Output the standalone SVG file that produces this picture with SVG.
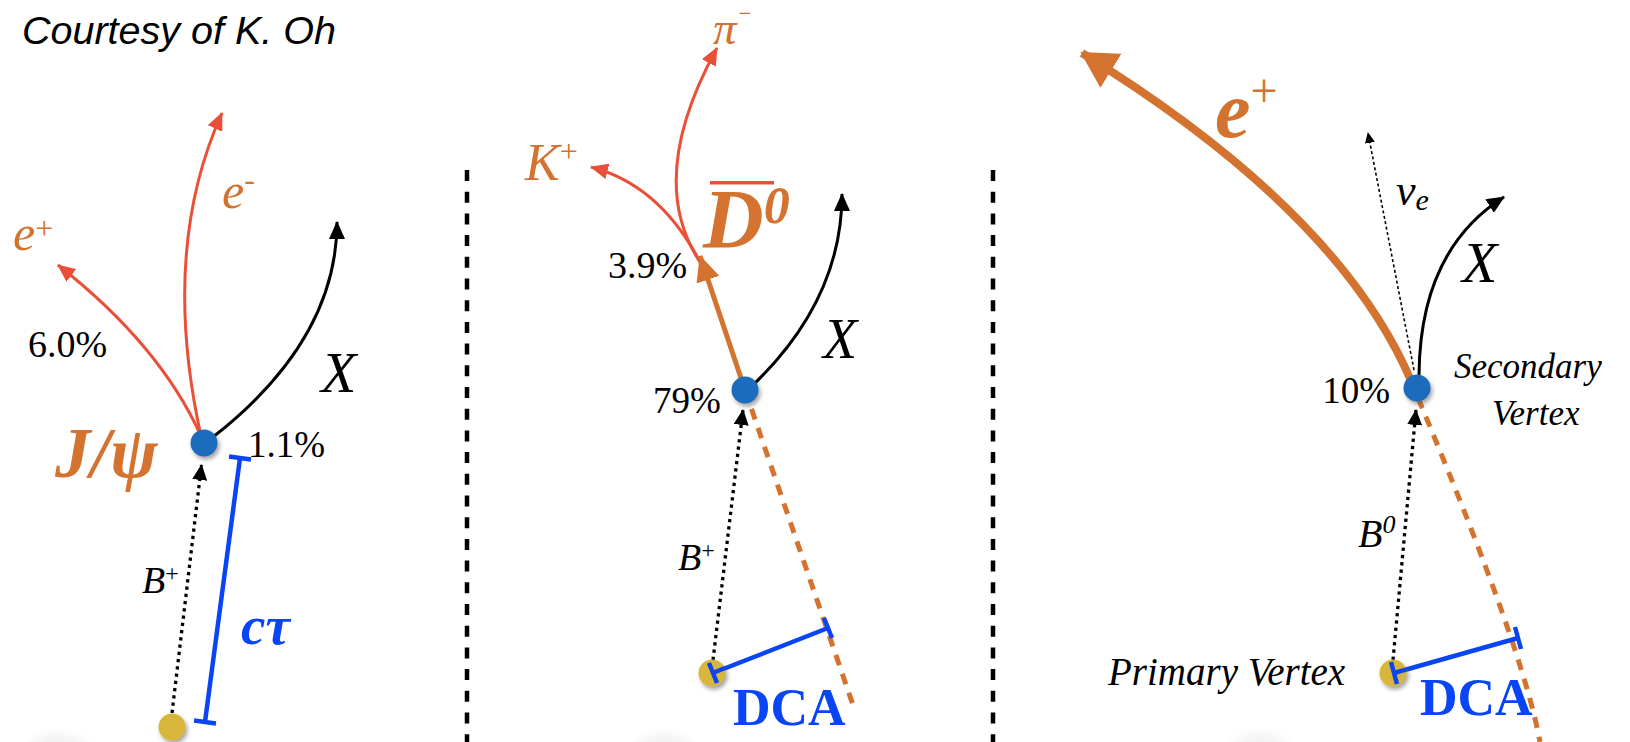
<svg xmlns="http://www.w3.org/2000/svg" width="1630" height="742" viewBox="0 0 1630 742">
<style>
.serif{font-family:"Liberation Serif","Times New Roman",serif}
.it{font-style:italic}
.bd{font-weight:bold}
.blk{fill:#000}
.org{fill:#d4732f}
.blu{fill:#0a45f5}
.red-line{fill:none;stroke:#ea5038;stroke-width:3}
.blk-line{fill:none;stroke:#000;stroke-width:3}
.dot-line{fill:none;stroke:#000;stroke-width:3.3;stroke-dasharray:3.3 4}
.sep{fill:none;stroke:#000;stroke-width:4.5;stroke-dasharray:11 10.7}
.bar{fill:none;stroke:#0a45f5;stroke-width:4.5}
.odash{fill:none;stroke:#d4732f;stroke-width:5;stroke-dasharray:11 9}
.vb{fill:#1c6cbd}
.vy{fill:#d8b53b}
.ghost{fill:#f3f3f3}
</style>
<defs>
<filter id="sh" x="-50%" y="-50%" width="200%" height="200%">
<feDropShadow dx="2" dy="3" stdDeviation="2" flood-color="#555" flood-opacity="0.55"/>
</filter>
<filter id="blur" x="-50%" y="-50%" width="200%" height="200%">
<feGaussianBlur stdDeviation="4"/>
</filter>
<marker id="aRed" markerUnits="userSpaceOnUse" viewBox="0 0 18 16" markerWidth="18" markerHeight="16" refX="17" refY="8" orient="auto">
<path d="M0,0 L18,8 L0,16 Z" fill="#ea5038"/>
</marker>
<marker id="aBlk" markerUnits="userSpaceOnUse" viewBox="0 0 18 16" markerWidth="18" markerHeight="16" refX="17" refY="8" orient="auto">
<path d="M0,0 L18,8 L0,16 Z" fill="#000"/>
</marker>
<marker id="aDot" markerUnits="userSpaceOnUse" viewBox="0 0 16 15" markerWidth="16" markerHeight="15" refX="15" refY="7.5" orient="auto">
<path d="M0,0 L16,7.5 L0,15 Z" fill="#000"/>
</marker>
<marker id="aSmall" markerUnits="userSpaceOnUse" viewBox="0 0 11 10" markerWidth="11" markerHeight="10" refX="10" refY="5" orient="auto">
<path d="M0,0 L11,5 L0,10 Z" fill="#000"/>
</marker>
<marker id="aOrg" markerUnits="userSpaceOnUse" viewBox="0 0 26 24" markerWidth="26" markerHeight="24" refX="25" refY="12" orient="auto">
<path d="M0,0 L26,12 L0,24 Z" fill="#d4732f"/>
</marker>
<marker id="aOrgBig" markerUnits="userSpaceOnUse" viewBox="0 0 36 40" markerWidth="36" markerHeight="40" refX="34" refY="20" orient="auto">
<path d="M0,0 L36,20 L0,40 Z" fill="#d4732f"/>
</marker>
</defs>

<rect width="1630" height="742" fill="#fff"/>

<g id="ghosts" filter="url(#blur)">
<circle class="ghost" cx="58" cy="775" r="42"/>
<circle class="ghost" cx="664" cy="775" r="42"/>
<circle class="ghost" cx="1260" cy="775" r="42"/>
</g>

<text id="courtesy" x="22" y="44" font-family="'Liberation Sans',Arial,sans-serif" font-style="italic" font-size="39.5" fill="#000">Courtesy of K. Oh</text>

<g id="separators">
<line class="sep" x1="467" y1="170" x2="467" y2="742"/>
<line class="sep" x1="993" y1="170" x2="993" y2="742"/>
</g>

<g id="connectors">
<!-- panel 1 -->
<path class="red-line" d="M201,436 Q160,345 58,265" marker-end="url(#aRed)"/>
<path class="red-line" d="M201,436 Q160,250 222,113" marker-end="url(#aRed)"/>
<path class="blk-line" d="M213,437 Q337,340 337,222" marker-end="url(#aBlk)"/>
<path class="dot-line" d="M172,713 L201.5,465" marker-end="url(#aDot)"/>
<!-- panel 2 -->
<path class="odash" d="M745,390 L853,705"/>
<path class="red-line" d="M700,262 Q660,185 591,167" marker-end="url(#aRed)"/>
<path class="red-line" d="M700,262 Q645,179 717,48" marker-end="url(#aRed)"/>
<path d="M745,390 L700,256" fill="none" stroke="#d4732f" stroke-width="5" marker-end="url(#aOrg)"/>
<path class="blk-line" d="M752,386 Q842,300 842,194" marker-end="url(#aBlk)"/>
<path class="dot-line" d="M713,660 L743,410" marker-end="url(#aDot)"/>
<!-- panel 3 -->
<path class="odash" d="M1418,398 Q1523,648 1540,742"/>
<path d="M1412,383 Q1340,212 1082,53" fill="none" stroke="#d4732f" stroke-width="8" marker-end="url(#aOrgBig)"/>
<path d="M1414,370 L1368,133" fill="none" stroke="#000" stroke-width="1.6" stroke-dasharray="3 2.5" marker-end="url(#aSmall)"/>
<path class="blk-line" d="M1419,375 Q1420,250 1504,197" marker-end="url(#aBlk)"/>
<path class="dot-line" d="M1393,660 L1416,410" marker-end="url(#aDot)"/>
</g>

<g id="measures">
<path class="bar" d="M240,458 L205,722 M229,456.6 L251,459.4 M194,720.6 L216,723.4"/>
<path class="bar" d="M713,673 L828,628 M709,663 L717,683 M824,618 L832,638"/>
<path class="bar" d="M1394,673 L1518,638 M1391,662 L1397,684 M1515,627 L1521,649"/>
</g>

<g id="vertex-p1-secondary"><circle class="vb" cx="204" cy="443" r="13.5" filter="url(#sh)"/></g>
<g id="vertex-p1-primary"><circle class="vy" cx="172" cy="727" r="13.5" filter="url(#sh)"/></g>
<g id="vertex-p2-secondary"><circle class="vb" cx="745" cy="390" r="13.5" filter="url(#sh)"/></g>
<g id="vertex-p2-primary"><circle class="vy" cx="712" cy="673" r="13.5" filter="url(#sh)"/></g>
<g id="vertex-p3-secondary"><circle class="vb" cx="1417" cy="388" r="13.5" filter="url(#sh)"/></g>
<g id="vertex-p3-primary"><circle class="vy" cx="1393" cy="673" r="13.5" filter="url(#sh)"/></g>
<g id="caps-over">
<path class="bar" d="M709,663 L717,683 M713,673 L725,668"/>
<path class="bar" d="M1391,662 L1397,684 M1394,673 L1406,669.6"/>
</g>

<g id="labels-p1" class="serif">
<text class="org it" x="13" y="250" font-size="50">e<tspan font-style="normal" font-size="32" dy="-11">+</tspan></text>
<text class="org it" x="222" y="208" font-size="50">e<tspan font-style="normal" font-size="32" dy="-18">-</tspan></text>
<text class="blk" x="28" y="357" font-size="38">6.0%</text>
<text class="blk it" x="321" y="392" font-size="58">X</text>
<text class="org it bd" x="55" y="477" font-size="71">J/ψ</text>
<text class="blk" x="248" y="457" font-size="37">1.1%</text>
<text class="blk it" x="142" y="593" font-size="38">B<tspan font-style="normal" font-size="24" dy="-12">+</tspan></text>
<text class="blu it bd" x="241" y="644" font-size="55">cτ</text>
</g>

<g id="labels-p2" class="serif">
<text class="org it" x="713" y="44" font-size="47">π<tspan font-style="normal" font-size="23" dx="2" dy="-23">−</tspan></text>
<text class="org it" x="525" y="180" font-size="52">K<tspan font-style="normal" font-size="32" dy="-18">+</tspan></text>
<rect x="710" y="181" width="64" height="3.5" fill="#ea5038"/>
<text class="org it bd" x="703" y="248" font-size="84">D<tspan font-size="52" dy="-25">0</tspan></text>
<text class="blk" x="608" y="278" font-size="38">3.9%</text>
<text class="blk it" x="823" y="358" font-size="56">X</text>
<text class="blk" x="653" y="413" font-size="37">79%</text>
<text class="blk it" x="678" y="570" font-size="38">B<tspan font-style="normal" font-size="24" dy="-12">+</tspan></text>
<text class="blu bd" x="733" y="725" font-size="52">DCA</text>
</g>

<g id="labels-p3" class="serif">
<text class="org it bd" x="1215" y="137" font-size="80">e<tspan font-weight="normal" font-style="normal" font-size="48" dy="-30">+</tspan></text>
<text class="blk it" x="1396" y="205" font-size="44">ν<tspan font-size="30" dy="5">e</tspan></text>
<text class="blk it" x="1462" y="282" font-size="58">X</text>
<text class="blk" x="1390" y="403" font-size="37" text-anchor="end">10%</text>
<text class="blk it" x="1454" y="378" font-size="35">Secondary</text>
<text class="blk it" x="1492" y="425" font-size="35">Vertex</text>
<text class="blk it" x="1358" y="547" font-size="40">B<tspan font-size="26" dy="-14">0</tspan></text>
<text class="blk it" x="1108" y="685" font-size="39">Primary Vertex</text>
<text class="blu bd" x="1420" y="715" font-size="52">DCA</text>
</g>
</svg>
